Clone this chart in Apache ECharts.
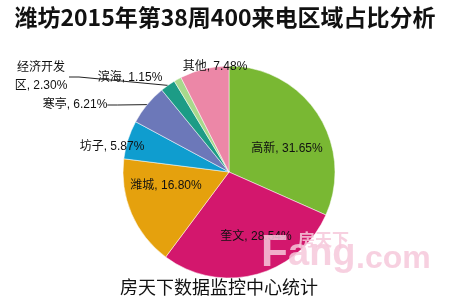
<!DOCTYPE html>
<html><head><meta charset="utf-8">
<script src="https://cdn.jsdelivr.net/npm/echarts@6/dist/echarts.min.js"></script>
<style>html,body{margin:0;padding:0;background:#fff}#c{width:450px;height:300px}</style>
</head><body><div id="c"></div>
<script>
const titleText = '潍坊2015年第38周400来电区域占比分析';
const sourceText = '房天下数据监控中心统计';
const categories = ['高新', '奎文', '潍城', '坊子', '寒亭', '经济开发区', '滨海', '其他'];
const shares = [31.65, 28.54, 16.80, 5.87, 6.21, 2.30, 1.15, 7.48];
const colors = ['#79b833', '#d3176d', '#e5a10d', '#0f9dcf', '#6c78b9', '#1c9c86', '#a7d98c', '#ec87a7'];
// label placement (style only): [x, y, showLine]
const labelPos = [
  [287, 149, false], [256, 237, false], [166, 186, false], [112, 147, false],
  [75, 105, true], [41, 77, true], [130, 78, false], [215, 67, false]
];
const font = '"Liberation Sans","Noto Sans CJK SC",sans-serif';
const cjk = '"Noto Sans CJK SC",sans-serif';
const wm = {fill: 'rgba(246,200,218,0.85)', shadowColor: 'rgba(0,0,0,0.3)', shadowBlur: 2, shadowOffsetX: 1, shadowOffsetY: 1};
const chart = echarts.init(document.getElementById('c'), null, {renderer: 'canvas'});
chart.setOption({
  animation: false,
  backgroundColor: '#fff',
  title: [{
    text: titleText, left: 'center', top: 1,
    textStyle: {fontSize: 23, fontWeight: 'bold', color: '#111', fontFamily: cjk}
  }],
  graphic: [
    {type: 'text', left: 120, top: 278, z: 10,
     style: {text: sourceText, fontSize: 18, fill: '#111', fontFamily: cjk}},
    {type: 'text', left: 298, top: 231, z: 20,
     style: Object.assign({text: '房天下', fontSize: 17, fontWeight: 'bold', fontFamily: cjk}, wm)},
    {type: 'text', left: 261, top: 232, z: 20,
     style: Object.assign({text: 'F', fontSize: 44, fontWeight: 'bold', fontFamily: font}, wm)},
    {type: 'text', left: 288, top: 236, z: 20,
     style: Object.assign({text: 'ang', fontSize: 38, fontWeight: 'bold', fontFamily: font}, wm)},
    {type: 'text', left: 356, top: 243, z: 20,
     style: Object.assign({text: '.com', fontSize: 32, fontWeight: 'bold', fontFamily: font}, wm)}
  ],
  series: [{
    type: 'pie',
    center: [229, 172],
    radius: 106,
    startAngle: 90,
    clockwise: true,
    avoidLabelOverlap: false,
    itemStyle: {borderColor: '#fff', borderWidth: 0.5},
    label: {
      show: true, position: 'outside', color: '#111', fontSize: 12, fontFamily: font,
      formatter: p => p.name + ', ' + shares[p.dataIndex].toFixed(2) + '%'
    },
    labelLine: {show: false, length: 10, length2: 10, smooth: false, lineStyle: {color: '#222', width: 1}},
    labelLayout: p => {
      const lp = labelPos[p.dataIndex];
      return {x: lp[0], y: lp[1], align: 'center', verticalAlign: 'middle'};
    },
    data: categories.map((c, i) => {
      const d = {name: c, value: shares[i], itemStyle: {color: colors[i]}};
      if (labelPos[i][2]) d.labelLine = {show: true};
      if (c === '经济开发区') d.label = {width: 56, overflow: 'break', lineHeight: 18, align: 'left'};
      return d;
    })
  }]
});
</script></body></html>
